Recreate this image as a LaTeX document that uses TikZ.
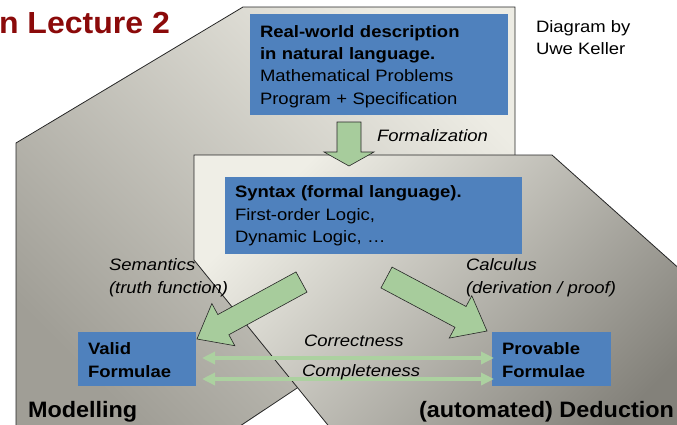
\documentclass[tikz,border=0pt]{standalone}
\usepackage{fontspec}
\setmainfont[FakeStretch=1.12, BoldFeatures={FakeStretch=1.12}, ItalicFeatures={FakeStretch=1.12}]{Liberation Sans}
\newfontfamily\headfont[FakeStretch=1.05, BoldFeatures={FakeStretch=1.05}]{Liberation Sans}
\usetikzlibrary{calc,arrows.meta}
\definecolor{boxblue}{HTML}{4F81BD}
\definecolor{arrgreen}{HTML}{A7CC9C}
\definecolor{lingreen}{HTML}{ACD1A0}
\definecolor{titlered}{HTML}{8B0A0A}
\definecolor{edgecol}{HTML}{262626}
\definecolor{backlight}{HTML}{EDECE4}
\definecolor{backdark}{HTML}{A09E96}
\definecolor{frontlight}{HTML}{EFEEE6}
\definecolor{frontdark}{HTML}{83817A}
\tikzset{
  every node/.style={inner sep=0pt, outer sep=0pt},
  txt/.style={font=\fontsize{16.5}{22.4}\selectfont, text=black},
  bluebox/.style={fill=boxblue, draw=none, txt, align=left, anchor=north west},
  lbl/.style={font=\fontsize{16.5}{22.4}\selectfont\itshape, text=black, align=left, anchor=north west},
  headtxt/.style={font=\headfont\fontsize{22.3}{26}\selectfont\bfseries, text=black, anchor=base west},
  panel/.style={draw=edgecol, line width=0.8pt},
  blockarr/.style={fill=arrgreen, draw=edgecol, line width=0.6pt, line join=miter},
  dblarr/.style={draw=lingreen, line width=4pt,
    {Triangle[length=13pt,width=12pt]}-{Triangle[length=13pt,width=12pt]}},
}
\newcommand\blkarrow[5]{%
  \coordinate (#2b) at ($(#2)!#5!(#1)$);
  \draw[blockarr] ($(#1)!#3!90:(#2)$) -- ($(#2b)!#3!90:(#2)$) -- ($(#2b)!#4!90:(#2)$)
    -- (#2) -- ($(#2b)!#4!-90:(#2)$) -- ($(#2b)!#3!-90:(#2)$) -- ($(#1)!#3!-90:(#2)$) -- cycle;
}
\begin{document}
\begin{tikzpicture}[x=1pt, y=-1pt]
\useasboundingbox (0,0) rectangle (677,424);
\clip (0,0) rectangle (677,424);
% background panels
\shade[panel, top color=backlight, bottom color=backdark, shading angle=-45]
  (16,440) -- (16,143) -- (243,7) -- (515,7) -- (515,243) -- (219,440) -- cycle;
\shade[panel, top color=frontlight, bottom color=frontdark, shading angle=45]
  (194,155) -- (552,155) -- (720,305) -- (720,440) -- (340,440) -- (194,260) -- cycle;
% title and credit
\node[anchor=base west, font=\headfont\fontsize{30.5}{34}\selectfont\bfseries, text=titlered] (title) at (-1,33) {n Lecture 2};
\node[txt, align=left, anchor=north west] (credit) at (536,16.6) {\strut Diagram by\\\strut Uwe Keller\strut};
% boxes
\node[bluebox, minimum width=258pt, minimum height=101pt, text width=238pt] (real) at (250,14)
  {\rule{0pt}{19pt}\textbf{Real-world description}\\\strut\textbf{in natural language.}\\\strut Mathematical Problems\\\strut Program + Specification\strut};
\node[bluebox, minimum width=297pt, minimum height=77pt, text width=277pt] (syntax) at (225,177)
  {\rule{0pt}{16.5pt}\textbf{Syntax (formal language).}\\\strut First-order Logic,\\\strut Dynamic Logic, …\strut};
\node[bluebox, minimum width=118pt, minimum height=54pt, text width=98pt] (valid) at (78,332)
  {\rule{0pt}{20.5pt}\textbf{Valid}\\\strut\textbf{Formulae}\strut};
\node[bluebox, minimum width=119pt, minimum height=54pt, text width=99pt] (provable) at (492,332)
  {\rule{0pt}{20.5pt}\textbf{Provable}\\\strut\textbf{Formulae}\strut};
% block arrows
\coordinate (fT) at (349,122);
\coordinate (fP) at (349,166);
\blkarrow{fT}{fP}{12pt}{25pt}{14pt}
\coordinate (sT) at (301.5,282);
\coordinate (sP) at (197,339);
\blkarrow{sT}{sP}{11.5pt}{24pt}{30pt}
\coordinate (cT) at (386.5,277.5);
\coordinate (cP) at (487,331);
\blkarrow{cT}{cP}{11.8pt}{24pt}{30pt}
% correctness / completeness
\draw[dblarr] ($(valid.east)+(6,-1)$) -- ($(provable.west)+(2,-1)$);
\draw[dblarr] ($(valid.east)+(6,20)$) -- ($(provable.west)+(2,20)$);
% labels
\node[lbl] (formal) at (377,126) {\strut Formalization};
\node[lbl] (sem) at (109,255) {\strut Semantics\\\strut(truth function)};
\node[lbl] (calc) at (466,255) {\strut Calculus\\\strut(derivation / proof)};
\node[lbl] (corr) at (304,331.3) {\strut Correctness};
\node[lbl] (compl) at (302,361) {\strut Completeness};
\node[headtxt] (model) at (28,417.7) {Modelling};
\node[headtxt] (deduct) at (419,417) {(automated) Deduction};
\end{tikzpicture}
\end{document}
